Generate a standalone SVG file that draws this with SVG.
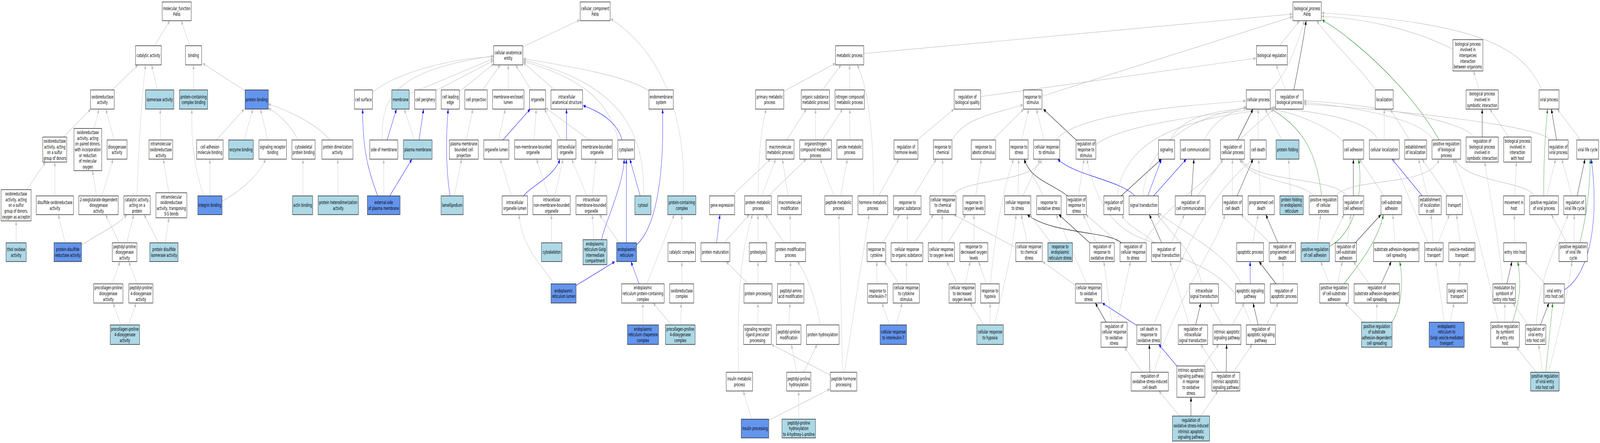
<svg xmlns="http://www.w3.org/2000/svg" width="7143" height="1133" viewBox="0 0 7143 1133" preserveAspectRatio="none" style="width:100vw;height:100vh;display:block">
<style>
rect.n{fill:#fff;stroke:#000;stroke-width:1.2}
rect.lb{fill:#ADD8E6}
rect.cb{fill:#6495ED}
text{font-family:"DejaVu Sans",sans-serif;font-size:12.8px;text-anchor:middle;fill:#000}
path{fill:none;stroke-width:1.2}
.g{stroke:#BEBEBE;marker-end:url(#ag)}
.b{stroke:#0000FF;marker-end:url(#ab)}
.k{stroke:#000;marker-end:url(#ak)}
.gr{stroke:#228B22;marker-end:url(#agr)}
</style>
<defs>
<marker id="ag" viewBox="0 0 11 9" refX="11" refY="4.5" markerWidth="11" markerHeight="9" markerUnits="userSpaceOnUse" orient="auto"><path d="M0,0L11,4.5L0,9z" style="fill:#BEBEBE;stroke:none"/></marker>
<marker id="ab" viewBox="0 0 11 9" refX="11" refY="4.5" markerWidth="11" markerHeight="9" markerUnits="userSpaceOnUse" orient="auto"><path d="M0,0L11,4.5L0,9z" style="fill:#0000FF;stroke:none"/></marker>
<marker id="ak" viewBox="0 0 11 9" refX="11" refY="4.5" markerWidth="11" markerHeight="9" markerUnits="userSpaceOnUse" orient="auto"><path d="M0,0L11,4.5L0,9z" style="fill:#000;stroke:none"/></marker>
<marker id="agr" viewBox="0 0 11 9" refX="11" refY="4.5" markerWidth="11" markerHeight="9" markerUnits="userSpaceOnUse" orient="auto"><path d="M0,0L11,4.5L0,9z" style="fill:#228B22;stroke:none"/></marker>
</defs>
<rect x="0" y="0" width="7143" height="1133" fill="#fff"/>
<g id="connectors">
<path class="g" d="M690,117 L758,53"/>
<path class="g" d="M847,117 L809,53"/>
<path class="g" d="M501,230 L616,166"/>
<path class="g" d="M702,230 L677,166"/>
<path class="g" d="M612,501 C615,420 630,260 650,166"/>
<path class="g" d="M864,230 L864,166"/>
<path class="g" d="M1094,232 L905,162"/>
<path class="g" d="M285,350 L405,279"/>
<path class="g" d="M421,328 L442,279"/>
<path class="g" d="M510,358 L472,279"/>
<path class="g" d="M717,358 L715,279"/>
<path class="g" d="M909,501 C880,450 850,380 857,279"/>
<path class="g" d="M966,358 L1090,279"/>
<path class="g" d="M1089,358 L1129,279"/>
<path class="g" d="M1195,358 L1163,279"/>
<path class="g" d="M1330,358 C1300,320 1240,290 1198,277"/>
<path class="g" d="M1472,358 C1420,320 1300,285 1198,266"/>
<path class="g" d="M937,501 L937,407"/>
<path class="g" d="M991,515 C1100,480 1160,440 1186,407"/>
<path class="g" d="M120,485 L203,414"/>
<path class="g" d="M245,501 L245,414"/>
<path class="g" d="M431,501 L413,436"/>
<path class="g" d="M455,501 L505,407"/>
<path class="g" d="M754,493 L729,407"/>
<path class="g" d="M72,621 L72,565"/>
<path class="g" d="M291,621 L260,549"/>
<path class="g" d="M364,627 C430,600 520,580 566,549"/>
<path class="g" d="M532,621 L471,549"/>
<path class="g" d="M566,621 L597,549"/>
<path class="g" d="M708,621 L643,549"/>
<path class="g" d="M738,621 L754,557"/>
<path class="g" d="M501,726 L536,669"/>
<path class="g" d="M612,726 L575,669"/>
<path class="g" d="M539,831 L505,775"/>
<path class="g" d="M574,831 L608,775"/>
<path class="g" d="M1352,501 L1353,407"/>
<path class="g" d="M1510,501 L1508,407"/>
<path class="g" d="M2334,120 L2588,51"/>
<path class="g" d="M3049,501 C3065,350 3000,150 2726,48"/>
<path class="g" d="M1663,237 C1750,190 2000,150 2203,145"/>
<path class="g" d="M1828,240 L2203,150"/>
<path class="g" d="M1946,232 L2203,155"/>
<path class="g" d="M2051,234 L2205,163"/>
<path class="g" d="M2155,230 L2233,166"/>
<path class="g" d="M2269,230 L2269,166"/>
<path class="g" d="M2371,230 L2302,166"/>
<path class="g" d="M1707,358 C1700,250 1760,180 2203,143"/>
<path class="g" d="M2476,230 L2336,160"/>
<path class="g" d="M2897,232 C2800,195 2550,170 2336,150"/>
<path class="g" d="M2874,501 C2875,350 2800,220 2336,153"/>
<path class="g" d="M2760,358 C2720,260 2600,200 2336,157"/>
<path class="b" d="M1686,501 C1640,430 1619,380 1619,279"/>
<path class="g" d="M1713,501 L1713,407"/>
<path class="b" d="M1740,501 L1839,407"/>
<path class="b" d="M1728,358 L1770,279"/>
<path class="g" d="M1850,358 L1805,279"/>
<path class="b" d="M1871,358 L1891,279"/>
<path class="b" d="M2009,501 C1990,430 1990,350 2001,279"/>
<path class="g" d="M2028,501 L2061,407"/>
<path class="g" d="M2082,358 L2111,279"/>
<path class="g" d="M2225,358 L2256,279"/>
<path class="b" d="M2245,358 L2367,279"/>
<path class="g" d="M2384,358 L2394,279"/>
<path class="g" d="M2284,501 L2233,407"/>
<path class="b" d="M2338,501 C2360,480 2480,450 2499,407"/>
<path class="b" d="M2529,358 L2529,279"/>
<path class="b" d="M2777,358 C2760,320 2700,290 2603,270"/>
<path class="g" d="M2505,358 L2430,279"/>
<path class="g" d="M2631,358 L2436,276"/>
<path class="g" d="M2449,501 L2395,407"/>
<path class="g" d="M2476,501 L2514,407"/>
<path class="g" d="M2620,501 L2552,407"/>
<path class="g" d="M2644,501 L2660,407"/>
<path class="b" d="M2858,501 L2812,407"/>
<path class="b" d="M2796,621 L2796,407"/>
<path class="b" d="M2686,613 C2700,570 2780,480 2787,407"/>
<path class="b" d="M2842,626 C2930,580 2965,450 2958,279"/>
<path class="g" d="M2764,621 L2677,549"/>
<path class="g" d="M2652,613 L2644,549"/>
<path class="g" d="M2462,621 L2462,549"/>
<path class="b" d="M2572,730 L2745,669"/>
<path class="g" d="M2472,726 C2440,690 2330,640 2317,549"/>
<path class="b" d="M2853,726 L2817,669"/>
<path class="g" d="M2888,726 L3010,549"/>
<path class="g" d="M3044,621 L3044,549"/>
<path class="g" d="M3044,726 L3044,669"/>
<path class="g" d="M2870,831 L2870,775"/>
<path class="g" d="M2997,831 L2916,775"/>
<path class="g" d="M3039,831 L3041,775"/>
<path class="g" d="M3267,501 L3440,407"/>
<path class="b" d="M3199,621 L3214,549"/>
<path class="g" d="M3233,621 L3345,549"/>
<path class="g" d="M3400,501 L3463,407"/>
<path class="g" d="M3385,501 C3385,420 3395,330 3421,279"/>
<path class="g" d="M3430,501 L3600,407"/>
<path class="g" d="M3512,358 L3600,279"/>
<path class="g" d="M3518,501 L3493,407"/>
<path class="g" d="M3500,233 L3730,162"/>
<path class="g" d="M3384,621 L3384,549"/>
<path class="g" d="M3500,621 L3417,549"/>
<path class="g" d="M3529,621 L3527,549"/>
<path class="g" d="M3298,952 C3290,800 3300,650 3360,549"/>
<path class="g" d="M3341,726 L3242,669"/>
<path class="g" d="M3384,726 L3384,669"/>
<path class="g" d="M3529,726 L3529,669"/>
<path class="g" d="M3662,831 C3640,760 3600,700 3560,669"/>
<path class="g" d="M3383,831 L3384,775"/>
<path class="g" d="M3521,831 L3527,775"/>
<path class="g" d="M3708,960 L3444,881"/>
<path class="g" d="M3356,1072 L3318,1000"/>
<path class="g" d="M3432,1075 L3705,995"/>
<path class="g" d="M3557,952 L3533,881"/>
<path class="g" d="M3588,952 L3648,881"/>
<path class="g" d="M3566,1072 L3566,1000"/>
<path class="g" d="M3762,952 L3745,549"/>
<path class="g" d="M3770,952 L3880,549"/>
<path class="g" d="M3856,137 L5770,36"/>
<path class="g" d="M3671,230 L3755,166"/>
<path class="g" d="M3793,230 L3793,166"/>
<path class="g" d="M3900,501 C3900,350 3880,230 3827,166"/>
<path class="g" d="M3641,358 L3641,279"/>
<path class="g" d="M3671,358 L3762,279"/>
<path class="g" d="M3794,358 L3794,279"/>
<path class="g" d="M3724,501 L3662,407"/>
<path class="g" d="M3753,501 L3783,407"/>
<path class="g" d="M3923,501 L4013,407"/>
<path class="g" d="M4094,358 L4259,279"/>
<path class="g" d="M4379,247 L5607,149"/>
<path class="g" d="M4652,246 L5770,43"/>
<path class="g" d="M4252,358 C4300,300 4450,290 4567,268"/>
<path class="g" d="M4432,358 L4570,279"/>
<path class="g" d="M4561,358 L4593,279"/>
<path class="g" d="M4661,358 L4627,279"/>
<path class="k" d="M4804,358 L4658,279"/>
<path class="g" d="M4715,358 C4800,290 5300,270 5562,258"/>
<path class="g" d="M4079,501 L4180,407"/>
<path class="g" d="M4208,501 L4208,407"/>
<path class="g" d="M4252,501 C4290,455 4620,470 4650,407"/>
<path class="g" d="M4356,501 L4381,407"/>
<path class="g" d="M4422,726 C4440,600 4480,480 4525,407"/>
<path class="g" d="M4545,501 L4548,407"/>
<path class="g" d="M4567,501 L4643,407"/>
<path class="g" d="M4658,501 L4574,407"/>
<path class="k" d="M4765,501 C4700,470 4600,460 4572,407"/>
<path class="k" d="M5006,621 C4950,590 4700,600 4586,549"/>
<path class="k" d="M4865,621 L4727,549"/>
<path class="g" d="M3941,621 L4016,549"/>
<path class="g" d="M4051,621 L4051,549"/>
<path class="g" d="M4081,621 L4168,549"/>
<path class="g" d="M4205,621 L4207,549"/>
<path class="g" d="M4231,621 L4312,549"/>
<path class="g" d="M4348,621 L4348,549"/>
<path class="g" d="M4535,633 L4258,549"/>
<path class="g" d="M4586,621 L4559,549"/>
<path class="g" d="M4692,621 L4597,549"/>
<path class="g" d="M3915,726 L3914,669"/>
<path class="g" d="M4014,726 L3948,669"/>
<path class="g" d="M4046,726 L4047,669"/>
<path class="g" d="M4273,726 L4227,669"/>
<path class="g" d="M4309,726 L4331,669"/>
<path class="g" d="M4403,726 L4369,669"/>
<path class="g" d="M3972,831 L3937,775"/>
<path class="g" d="M4001,831 L4028,775"/>
<path class="g" d="M4392,831 L4331,775"/>
<path class="g" d="M4420,831 L4420,775"/>
<path class="g" d="M4439,831 C4470,760 4520,650 4536,549"/>
<path class="g" d="M4801,730 L4655,669"/>
<path class="g" d="M4852,726 L4715,549"/>
<path class="k" d="M4938,824 L4890,775"/>
<path class="g" d="M4963,824 L4928,669"/>
<path class="g" d="M4987,824 L5047,669"/>
<path class="b" d="M5074,832 L4921,775"/>
<path class="g" d="M5150,831 C5300,620 5400,500 5594,407"/>
<path class="k" d="M5133,952 L5131,881"/>
<path class="g" d="M5099,952 L5020,888"/>
<path class="g" d="M5152,952 C5250,760 5440,620 5468,549"/>
<path class="b" d="M5254,936 L5173,881"/>
<path class="g" d="M5370,937 L5441,881"/>
<path class="k" d="M5474,952 L5476,881"/>
<path class="g" d="M5441,952 L5361,881"/>
<path class="g" d="M5506,952 L5590,881"/>
<path class="g" d="M5267,1064 L5173,1000"/>
<path class="k" d="M5317,1064 L5317,1016"/>
<path class="g" d="M5361,1064 L5437,1000"/>
<path class="g" d="M5501,831 L5556,775"/>
<path class="g" d="M5455,831 L5403,775"/>
<path class="k" d="M5338,831 L5361,775"/>
<path class="g" d="M5309,831 L5223,669"/>
<path class="g" d="M5365,726 C5340,650 5230,600 5168,549"/>
<path class="g" d="M5541,726 C5480,650 5300,600 5172,545"/>
<path class="b" d="M5581,726 L5581,669"/>
<path class="k" d="M5617,831 L5594,775"/>
<path class="g" d="M5654,831 L5707,775"/>
<path class="g" d="M5585,831 C5540,740 5420,690 5271,660"/>
<path class="g" d="M5592,621 L5617,549"/>
<path class="k" d="M5705,621 L5651,549"/>
<path class="g" d="M5669,621 L5541,549"/>
<path class="k" d="M5697,726 L5621,669"/>
<path class="g" d="M5730,726 L5727,669"/>
<path class="k" d="M5186,621 L5131,549"/>
<path class="g" d="M5153,621 C5100,590 5030,580 5009,549"/>
<path class="g" d="M5228,621 L5288,549"/>
<path class="g" d="M5160,621 C5000,600 4900,540 4852,407"/>
<path class="g" d="M4995,621 L4848,549"/>
<path class="g" d="M4896,621 L4836,549"/>
<path class="g" d="M5108,621 C5200,520 5400,470 5460,407"/>
<path class="g" d="M4814,501 L4840,407"/>
<path class="k" d="M5005,501 L5185,407"/>
<path class="g" d="M4988,501 C5020,350 5300,300 5695,278"/>
<path class="b" d="M5124,501 L5185,407"/>
<path class="b" d="M5150,501 L5296,407"/>
<path class="b" d="M5066,501 C5000,460 4800,450 4722,407"/>
<path class="g" d="M5104,501 C5110,380 5300,300 5564,275"/>
<path class="k" d="M5319,501 L5330,407"/>
<path class="g" d="M5345,501 L5460,407"/>
<path class="g" d="M5502,501 L5502,407"/>
<path class="k" d="M5523,501 L5594,407"/>
<path class="g" d="M5627,501 L5619,407"/>
<path class="g" d="M5762,501 L5753,407"/>
<path class="g" d="M5866,501 C5800,460 5600,470 5533,407"/>
<path class="gr" d="M5900,501 C5880,400 5830,330 5672,278"/>
<path class="g" d="M4892,370 C5000,320 5400,290 5695,275"/>
<path class="g" d="M5223,358 C5280,300 5400,285 5564,277"/>
<path class="g" d="M5376,358 C5420,310 5480,290 5564,273"/>
<path class="k" d="M5525,358 L5594,279"/>
<path class="g" d="M5533,358 L5686,279"/>
<path class="g" d="M5617,358 L5617,279"/>
<path class="g" d="M5723,358 L5648,279"/>
<path class="g" d="M5671,232 C5740,190 5770,150 5824,53"/>
<path class="k" d="M5776,230 C5800,160 5820,100 5831,53"/>
<path class="g" d="M5740,230 L5697,166"/>
<path class="g" d="M5713,117 L5801,53"/>
<path class="g" d="M6142,230 C6050,160 5950,110 5878,53"/>
<path class="gr" d="M6425,358 C6300,230 6050,100 5902,51"/>
<path class="g" d="M6486,126 C6300,70 6050,45 5900,42"/>
<path class="g" d="M6883,230 C6800,120 6600,60 5900,33"/>
<path class="g" d="M6400,360 C6350,300 6000,270 5820,262"/>
<path class="g" d="M6577,350 C6550,310 6100,265 5820,258"/>
<path class="g" d="M6919,358 C6880,320 6200,280 5820,266"/>
<path class="g" d="M6151,358 C6120,310 5900,285 5673,276"/>
<path class="g" d="M5997,363 C5950,330 5800,290 5673,279"/>
<path class="g" d="M6603,230 L6578,181"/>
<path class="k" d="M6617,350 L6617,279"/>
<path class="g" d="M6735,350 L6651,279"/>
<path class="k" d="M6949,358 L6926,279"/>
<path class="g" d="M7057,358 L6952,279"/>
<path class="gr" d="M6892,501 C6890,420 6900,330 6909,279"/>
<path class="g" d="M6905,501 L6945,407"/>
<path class="g" d="M6852,501 C6800,460 6560,470 6494,407"/>
<path class="g" d="M7018,501 L6972,407"/>
<path class="k" d="M7041,501 L7076,407"/>
<path class="gr" d="M7053,621 C7080,560 7100,480 7099,407"/>
<path class="g" d="M7026,621 L7028,549"/>
<path class="b" d="M6984,741 C7100,700 7140,560 7104,407"/>
<path class="g" d="M6180,358 L6180,279"/>
<path class="g" d="M6293,358 L6207,279"/>
<path class="k" d="M6042,501 L6042,407"/>
<path class="g" d="M6012,501 C5950,450 5600,470 5540,407"/>
<path class="g" d="M5960,501 C6050,450 6380,480 6425,407"/>
<path class="gr" d="M5935,630 C6040,600 6090,500 6065,407"/>
<path class="g" d="M6179,501 L6069,407"/>
<path class="b" d="M6349,501 L6215,407"/>
<path class="g" d="M6372,501 L6333,407"/>
<path class="g" d="M6463,501 L6349,407"/>
<path class="g" d="M6762,501 L6770,414"/>
<path class="g" d="M6708,726 C6690,600 6650,500 6628,414"/>
<path class="g" d="M6689,824 C6640,700 6560,500 6486,407"/>
<path class="g" d="M6375,621 L6218,407"/>
<path class="g" d="M6398,621 L6389,549"/>
<path class="g" d="M6420,621 L6471,549"/>
<path class="g" d="M6519,621 L6502,549"/>
<path class="g" d="M6014,621 L6031,549"/>
<path class="k" d="M6050,621 L6165,549"/>
<path class="gr" d="M6000,726 C6060,680 6150,620 6176,549"/>
<path class="g" d="M6228,621 L6218,549"/>
<path class="g" d="M5970,726 L5993,669"/>
<path class="g" d="M6113,726 L6042,669"/>
<path class="k" d="M6166,726 L6211,669"/>
<path class="gr" d="M6215,824 C6260,780 6265,720 6249,669"/>
<path class="g" d="M6147,824 L6147,775"/>
<path class="g" d="M6087,824 L6004,775"/>
<path class="g" d="M6448,824 L6410,669"/>
<path class="g" d="M6473,824 L6492,775"/>
<path class="g" d="M6511,726 L6519,669"/>
<path class="k" d="M6727,726 L6750,669"/>
<path class="gr" d="M6752,824 C6790,760 6790,720 6776,669"/>
<path class="g" d="M6898,726 L6808,669"/>
<path class="g" d="M6762,621 L6760,549"/>
<path class="g" d="M6718,824 L6718,775"/>
<path class="g" d="M6823,831 L6754,775"/>
<path class="k" d="M6877,831 L6915,775"/>
<path class="g" d="M6859,831 C6870,700 6960,620 7000,549"/>
<path class="g" d="M6859,952 L6770,888"/>
<path class="g" d="M6888,952 L6869,881"/>
<path class="gr" d="M6901,952 L6932,775"/>
<path class="g" d="M6913,952 C6960,850 7000,750 7018,669"/>
<path class="g" d="M6995,621 L6926,549"/>
<path class="g" d="M5935,625 L6000,549"/>
<path class="g" d="M5880,621 L5896,549"/>
<path class="g" d="M5935,726 L5896,669"/>
</g>
<g id="n-mf"><rect class="n" x="724" y="5" width="130" height="48"/><text x="789" y="26.2"><tspan x="789">molecular_function</tspan><tspan x="789" dy="14.6">P4hb</tspan></text></g>
<g id="n-catact"><rect class="n" x="605" y="117" width="115" height="49"/><text x="662.5" y="146">catalytic activity</text></g>
<g id="n-binding"><rect class="n" x="828" y="117" width="72" height="49"/><text x="864" y="146">binding</text></g>
<g id="n-oxred"><rect class="n" x="404" y="230" width="106" height="49"/><text x="457" y="251.7"><tspan x="457">oxidoreductase</tspan><tspan x="457" dy="14.6">activity</tspan></text></g>
<g id="n-isomer"><rect class="n lb" x="650" y="230" width="126" height="49"/><text x="713" y="259">isomerase activity</text></g>
<g id="n-pcbind"><rect class="n lb" x="801" y="230" width="126" height="49"/><text x="864" y="251.7"><tspan x="864">protein-containing</tspan><tspan x="864" dy="14.6">complex binding</tspan></text></g>
<g id="n-protbind"><rect class="n cb" x="1094" y="230" width="104" height="49"/><text x="1146" y="259">protein binding</text></g>
<g id="n-oxsulf"><rect class="n" x="191" y="350.5" width="107" height="64"/><text x="244.5" y="365.1"><tspan x="244.5">oxidoreductase</tspan><tspan x="244.5" dy="14.6">activity, acting</tspan><tspan x="244.5" dy="14.6">on a sulfur</tspan><tspan x="244.5" dy="14.6">group of donors</tspan></text></g>
<g id="n-oxpaired"><rect class="n" x="330" y="328.5" width="124" height="108"/><text x="392" y="343.2"><tspan x="392">oxidoreductase</tspan><tspan x="392" dy="14.6">activity, acting</tspan><tspan x="392" dy="14.6">on paired donors,</tspan><tspan x="392" dy="14.6">with incorporation</tspan><tspan x="392" dy="14.6">or reduction</tspan><tspan x="392" dy="14.6">of molecular</tspan><tspan x="392" dy="14.6">oxygen</tspan></text></g>
<g id="n-dioxy"><rect class="n" x="478" y="358" width="89" height="49"/><text x="522.5" y="379.7"><tspan x="522.5">dioxygenase</tspan><tspan x="522.5" dy="14.6">activity</tspan></text></g>
<g id="n-intramol"><rect class="n" x="665" y="358" width="106" height="49"/><text x="718" y="372.4"><tspan x="718">intramolecular</tspan><tspan x="718" dy="14.6">oxidoreductase</tspan><tspan x="718" dy="14.6">activity</tspan></text></g>
<g id="n-cellad"><rect class="n" x="878" y="358" width="118" height="49"/><text x="937" y="379.7"><tspan x="937">cell adhesion</tspan><tspan x="937" dy="14.6">molecule binding</tspan></text></g>
<g id="n-enzbind"><rect class="n lb" x="1021" y="358" width="110" height="49"/><text x="1076" y="387">enzyme binding</text></g>
<g id="n-sigrec"><rect class="n" x="1156" y="358" width="123" height="49"/><text x="1217.5" y="379.7"><tspan x="1217.5">signaling receptor</tspan><tspan x="1217.5" dy="14.6">binding</tspan></text></g>
<g id="n-cytoskbind"><rect class="n" x="1303" y="358" width="104" height="49"/><text x="1355" y="379.7"><tspan x="1355">cytoskeletal</tspan><tspan x="1355" dy="14.6">protein binding</tspan></text></g>
<g id="n-protdim"><rect class="n" x="1437" y="358" width="139" height="49"/><text x="1506.5" y="379.7"><tspan x="1506.5">protein dimerization</tspan><tspan x="1506.5" dy="14.6">activity</tspan></text></g>
<g id="n-oxsulfo2"><rect class="n" x="5" y="485" width="134" height="80"/><text x="72" y="500.3"><tspan x="72">oxidoreductase</tspan><tspan x="72" dy="14.6">activity, acting</tspan><tspan x="72" dy="14.6">on a sulfur</tspan><tspan x="72" dy="14.6">group of donors,</tspan><tspan x="72" dy="14.6">oxygen as acceptor</tspan></text></g>
<g id="n-disulf"><rect class="n" x="162" y="501" width="166" height="48"/><text x="245" y="522.2"><tspan x="245">disulfide oxidoreductase</tspan><tspan x="245" dy="14.6">activity</tspan></text></g>
<g id="n-oxoglut"><rect class="n" x="352" y="501" width="176" height="48"/><text x="440" y="514.9"><tspan x="440">2-oxoglutarate-dependent</tspan><tspan x="440" dy="14.6">dioxygenase</tspan><tspan x="440" dy="14.6">activity</tspan></text></g>
<g id="n-catprot"><rect class="n" x="553" y="501" width="118" height="48"/><text x="612" y="514.9"><tspan x="612">catalytic activity,</tspan><tspan x="612" dy="14.6">acting on a</tspan><tspan x="612" dy="14.6">protein</tspan></text></g>
<g id="n-intratrans"><rect class="n" x="696" y="493" width="138" height="64"/><text x="765" y="507.6"><tspan x="765">intramolecular</tspan><tspan x="765" dy="14.6">oxidoreductase</tspan><tspan x="765" dy="14.6">activity, transposing</tspan><tspan x="765" dy="14.6">S-S bonds</tspan></text></g>
<g id="n-integrin"><rect class="n cb" x="883" y="501" width="108" height="48"/><text x="937" y="529.5">integrin binding</text></g>
<g id="n-actin"><rect class="n lb" x="1306" y="501" width="90" height="48"/><text x="1351" y="529.5">actin binding</text></g>
<g id="n-hetdim"><rect class="n lb" x="1420" y="501" width="180" height="48"/><text x="1510" y="522.2"><tspan x="1510">protein heterodimerization</tspan><tspan x="1510" dy="14.6">activity</tspan></text></g>
<g id="n-thiol"><rect class="n lb" x="27" y="621" width="90" height="48"/><text x="72" y="642.2"><tspan x="72">thiol oxidase</tspan><tspan x="72" dy="14.6">activity</tspan></text></g>
<g id="n-pdr"><rect class="n cb" x="241" y="621" width="123" height="48"/><text x="302.5" y="642.2"><tspan x="302.5">protein-disulfide</tspan><tspan x="302.5" dy="14.6">reductase activity</tspan></text></g>
<g id="n-ppdiox"><rect class="n" x="501" y="621" width="110" height="48"/><text x="556" y="634.9"><tspan x="556">peptidyl-proline</tspan><tspan x="556" dy="14.6">dioxygenase</tspan><tspan x="556" dy="14.6">activity</tspan></text></g>
<g id="n-pdi"><rect class="n lb" x="669" y="621" width="126" height="48"/><text x="732" y="642.2"><tspan x="732">protein disulfide</tspan><tspan x="732" dy="14.6">isomerase activity</tspan></text></g>
<g id="n-procdiox"><rect class="n" x="418" y="726" width="131" height="49"/><text x="483.5" y="740.4"><tspan x="483.5">procollagen-proline</tspan><tspan x="483.5" dy="14.6">dioxygenase</tspan><tspan x="483.5" dy="14.6">activity</tspan></text></g>
<g id="n-pp4diox"><rect class="n" x="575" y="726" width="108" height="49"/><text x="629" y="740.4"><tspan x="629">peptidyl-proline</tspan><tspan x="629" dy="14.6">4-dioxygenase</tspan><tspan x="629" dy="14.6">activity</tspan></text></g>
<g id="n-proc4diox"><rect class="n lb" x="492" y="831" width="131" height="50"/><text x="557.5" y="845.9"><tspan x="557.5">procollagen-proline</tspan><tspan x="557.5" dy="14.6">4-dioxygenase</tspan><tspan x="557.5" dy="14.6">activity</tspan></text></g>
<g id="n-cc"><rect class="n" x="2590" y="5" width="134" height="48"/><text x="2657" y="26.2"><tspan x="2657">cellular_component</tspan><tspan x="2657" dy="14.6">P4hb</tspan></text></g>
<g id="n-cae"><rect class="n" x="2204" y="117" width="130" height="49"/><text x="2269" y="138.7"><tspan x="2269">cellular anatomical</tspan><tspan x="2269" dy="14.6">entity</tspan></text></g>
<g id="n-cellsurf"><rect class="n" x="1582" y="230" width="81" height="49"/><text x="1622.5" y="259">cell surface</text></g>
<g id="n-membrane"><rect class="n lb" x="1749" y="230" width="78" height="49"/><text x="1788" y="259">membrane</text></g>
<g id="n-cellper"><rect class="n" x="1851" y="230" width="95" height="49"/><text x="1898.5" y="259">cell periphery</text></g>
<g id="n-leading"><rect class="n" x="1970" y="230" width="81" height="49"/><text x="2010.5" y="251.7"><tspan x="2010.5">cell leading</tspan><tspan x="2010.5" dy="14.6">edge</tspan></text></g>
<g id="n-cellproj"><rect class="n" x="2075" y="230" width="100" height="49"/><text x="2125" y="259">cell projection</text></g>
<g id="n-melumen"><rect class="n" x="2199" y="230" width="140" height="49"/><text x="2269" y="251.7"><tspan x="2269">membrane-enclosed</tspan><tspan x="2269" dy="14.6">lumen</tspan></text></g>
<g id="n-organelle"><rect class="n" x="2364" y="230" width="72" height="49"/><text x="2400" y="259">organelle</text></g>
<g id="n-ias"><rect class="n" x="2460" y="230" width="141" height="49"/><text x="2530.5" y="251.7"><tspan x="2530.5">intracellular</tspan><tspan x="2530.5" dy="14.6">anatomical structure</tspan></text></g>
<g id="n-endomem"><rect class="n" x="2897" y="230" width="109" height="49"/><text x="2951.5" y="251.7"><tspan x="2951.5">endomembrane</tspan><tspan x="2951.5" dy="14.6">system</tspan></text></g>
<g id="n-sidemem"><rect class="n" x="1651" y="358" width="125" height="49"/><text x="1713.5" y="387">side of membrane</text></g>
<g id="n-pm"><rect class="n lb" x="1801" y="358" width="128" height="49"/><text x="1865" y="387">plasma membrane</text></g>
<g id="n-pmbcp"><rect class="n" x="2006" y="358" width="129" height="49"/><text x="2070.5" y="372.4"><tspan x="2070.5">plasma membrane</tspan><tspan x="2070.5" dy="14.6">bounded cell</tspan><tspan x="2070.5" dy="14.6">projection</tspan></text></g>
<g id="n-orglumen"><rect class="n" x="2160" y="358" width="112" height="49"/><text x="2216" y="387">organelle lumen</text></g>
<g id="n-nmbo"><rect class="n" x="2297" y="358" width="165" height="49"/><text x="2379.5" y="379.7"><tspan x="2379.5">non-membrane-bounded</tspan><tspan x="2379.5" dy="14.6">organelle</tspan></text></g>
<g id="n-intorg"><rect class="n" x="2488" y="358" width="83" height="49"/><text x="2529.5" y="379.7"><tspan x="2529.5">intracellular</tspan><tspan x="2529.5" dy="14.6">organelle</tspan></text></g>
<g id="n-mbo"><rect class="n" x="2596" y="358" width="138" height="49"/><text x="2665" y="379.7"><tspan x="2665">membrane-bounded</tspan><tspan x="2665" dy="14.6">organelle</tspan></text></g>
<g id="n-cytoplasm"><rect class="n" x="2758" y="358" width="75" height="49"/><text x="2795.5" y="387">cytoplasm</text></g>
<g id="n-extpm"><rect class="n cb" x="1640" y="501" width="146" height="48"/><text x="1713" y="522.2"><tspan x="1713">external side</tspan><tspan x="1713" dy="14.6">of plasma membrane</tspan></text></g>
<g id="n-lamelli"><rect class="n lb" x="1969" y="501" width="99" height="48"/><text x="2018.5" y="529.5">lamellipodium</text></g>
<g id="n-iol"><rect class="n" x="2242" y="501" width="113" height="48"/><text x="2298.5" y="522.2"><tspan x="2298.5">intracellular</tspan><tspan x="2298.5" dy="14.6">organelle lumen</tspan></text></g>
<g id="n-inmbo"><rect class="n" x="2379" y="501" width="167" height="48"/><text x="2462.5" y="514.9"><tspan x="2462.5">intracellular</tspan><tspan x="2462.5" dy="14.6">non-membrane-bounded</tspan><tspan x="2462.5" dy="14.6">organelle</tspan></text></g>
<g id="n-imbo"><rect class="n" x="2571" y="501" width="138" height="48"/><text x="2640" y="514.9"><tspan x="2640">intracellular</tspan><tspan x="2640" dy="14.6">membrane-bounded</tspan><tspan x="2640" dy="14.6">organelle</tspan></text></g>
<g id="n-cytosol"><rect class="n lb" x="2834" y="501" width="72" height="48"/><text x="2870" y="529.5">cytosol</text></g>
<g id="n-pcc"><rect class="n lb" x="2981" y="501" width="126" height="48"/><text x="3044" y="522.2"><tspan x="3044">protein-containing</tspan><tspan x="3044" dy="14.6">complex</tspan></text></g>
<g id="n-cytoskel"><rect class="n lb" x="2417" y="621" width="92" height="48"/><text x="2463" y="649.5">cytoskeleton</text></g>
<g id="n-ergic"><rect class="n lb" x="2603" y="613" width="107" height="64"/><text x="2656.5" y="627.6"><tspan x="2656.5">endoplasmic</tspan><tspan x="2656.5" dy="14.6">reticulum-Golgi</tspan><tspan x="2656.5" dy="14.6">intermediate</tspan><tspan x="2656.5" dy="14.6">compartment</tspan></text></g>
<g id="n-er"><rect class="n cb" x="2753" y="621" width="89" height="48"/><text x="2797.5" y="642.2"><tspan x="2797.5">endoplasmic</tspan><tspan x="2797.5" dy="14.6">reticulum</tspan></text></g>
<g id="n-catcomplex"><rect class="n" x="2982" y="621" width="123" height="48"/><text x="3043.5" y="649.5">catalytic complex</text></g>
<g id="n-erlumen"><rect class="n cb" x="2460" y="726" width="112" height="49"/><text x="2516" y="747.7"><tspan x="2516">endoplasmic</tspan><tspan x="2516" dy="14.6">reticulum lumen</tspan></text></g>
<g id="n-erpcc"><rect class="n" x="2775" y="726" width="190" height="49"/><text x="2870" y="740.4"><tspan x="2870">endoplasmic</tspan><tspan x="2870" dy="14.6">reticulum protein-containing</tspan><tspan x="2870" dy="14.6">complex</tspan></text></g>
<g id="n-oxcomplex"><rect class="n" x="2990" y="726" width="107" height="49"/><text x="3043.5" y="747.7"><tspan x="3043.5">oxidoreductase</tspan><tspan x="3043.5" dy="14.6">complex</tspan></text></g>
<g id="n-erchap"><rect class="n cb" x="2801" y="831" width="139" height="50"/><text x="2870.5" y="845.9"><tspan x="2870.5">endoplasmic</tspan><tspan x="2870.5" dy="14.6">reticulum chaperone</tspan><tspan x="2870.5" dy="14.6">complex</tspan></text></g>
<g id="n-p4hcomplex"><rect class="n lb" x="2971" y="831" width="132" height="50"/><text x="3037" y="845.9"><tspan x="3037">procollagen-proline</tspan><tspan x="3037" dy="14.6">4-dioxygenase</tspan><tspan x="3037" dy="14.6">complex</tspan></text></g>
<g id="n-bp"><rect class="n" x="5772" y="5" width="127" height="48"/><text x="5835.5" y="26.2"><tspan x="5835.5">biological_process</tspan><tspan x="5835.5" dy="14.6">P4hb</tspan></text></g>
<g id="n-metab"><rect class="n" x="3730" y="117" width="126" height="49"/><text x="3793" y="146">metabolic process</text></g>
<g id="n-bioreg"><rect class="n" x="5609" y="117" width="138" height="49"/><text x="5678" y="146">biological regulation</text></g>
<g id="n-bpinter"><rect class="n" x="6486" y="101.5" width="134" height="80"/><text x="6553" y="116.8"><tspan x="6553">biological process</tspan><tspan x="6553" dy="14.6">involved in</tspan><tspan x="6553" dy="14.6">interspecies</tspan><tspan x="6553" dy="14.6">interaction</tspan><tspan x="6553" dy="14.6">between organisms</tspan></text></g>
<g id="n-primmet"><rect class="n" x="3373" y="230" width="126" height="49"/><text x="3436" y="251.7"><tspan x="3436">primary metabolic</tspan><tspan x="3436" dy="14.6">process</tspan></text></g>
<g id="n-orgsub"><rect class="n" x="3577" y="230" width="126" height="49"/><text x="3640" y="251.7"><tspan x="3640">organic substance</tspan><tspan x="3640" dy="14.6">metabolic process</tspan></text></g>
<g id="n-nitro"><rect class="n" x="3728" y="230" width="131" height="49"/><text x="3793.5" y="251.7"><tspan x="3793.5">nitrogen compound</tspan><tspan x="3793.5" dy="14.6">metabolic process</tspan></text></g>
<g id="n-regbq"><rect class="n" x="4260" y="230" width="118" height="49"/><text x="4319" y="251.7"><tspan x="4319">regulation of</tspan><tspan x="4319" dy="14.6">biological quality</tspan></text></g>
<g id="n-respstim"><rect class="n" x="4569" y="230" width="83" height="49"/><text x="4610.5" y="251.7"><tspan x="4610.5">response to</tspan><tspan x="4610.5" dy="14.6">stimulus</tspan></text></g>
<g id="n-cellproc"><rect class="n" x="5564" y="230" width="107" height="49"/><text x="5617.5" y="259">cellular process</text></g>
<g id="n-regbp"><rect class="n" x="5695" y="230" width="123" height="49"/><text x="5756.5" y="251.7"><tspan x="5756.5">regulation of</tspan><tspan x="5756.5" dy="14.6">biological process</tspan></text></g>
<g id="n-localiz"><rect class="n" x="6140" y="230" width="80" height="49"/><text x="6180" y="259">localization</text></g>
<g id="n-bpsymb"><rect class="n" x="6545" y="230" width="144" height="49"/><text x="6617" y="244.4"><tspan x="6617">biological process</tspan><tspan x="6617" dy="14.6">involved in</tspan><tspan x="6617" dy="14.6">symbiotic interaction</tspan></text></g>
<g id="n-viralproc"><rect class="n" x="6871" y="230" width="89" height="49"/><text x="6915.5" y="259">viral process</text></g>
<g id="n-macromet"><rect class="n" x="3420" y="358" width="125" height="49"/><text x="3482.5" y="379.7"><tspan x="3482.5">macromolecule</tspan><tspan x="3482.5" dy="14.6">metabolic process</tspan></text></g>
<g id="n-orgnitro"><rect class="n" x="3570" y="358" width="142" height="49"/><text x="3641" y="372.4"><tspan x="3641">organonitrogen</tspan><tspan x="3641" dy="14.6">compound metabolic</tspan><tspan x="3641" dy="14.6">process</tspan></text></g>
<g id="n-amide"><rect class="n" x="3736" y="358" width="116" height="49"/><text x="3794" y="379.7"><tspan x="3794">amide metabolic</tspan><tspan x="3794" dy="14.6">process</tspan></text></g>
<g id="n-reghorm"><rect class="n" x="3991" y="358" width="107" height="49"/><text x="4044.5" y="379.7"><tspan x="4044.5">regulation of</tspan><tspan x="4044.5" dy="14.6">hormone levels</tspan></text></g>
<g id="n-respchem"><rect class="n" x="4167" y="358" width="83" height="49"/><text x="4208.5" y="379.7"><tspan x="4208.5">response to</tspan><tspan x="4208.5" dy="14.6">chemical</tspan></text></g>
<g id="n-respabio"><rect class="n" x="4336" y="358" width="109" height="49"/><text x="4390.5" y="379.7"><tspan x="4390.5">response to</tspan><tspan x="4390.5" dy="14.6">abiotic stimulus</tspan></text></g>
<g id="n-respstress"><rect class="n" x="4507" y="358" width="83" height="49"/><text x="4548.5" y="379.7"><tspan x="4548.5">response to</tspan><tspan x="4548.5" dy="14.6">stress</tspan></text></g>
<g id="n-crstim"><rect class="n" x="4614" y="358" width="117" height="49"/><text x="4672.5" y="379.7"><tspan x="4672.5">cellular response</tspan><tspan x="4672.5" dy="14.6">to stimulus</tspan></text></g>
<g id="n-regrespstim"><rect class="n" x="4804" y="358" width="88" height="49"/><text x="4848" y="372.4"><tspan x="4848">regulation of</tspan><tspan x="4848" dy="14.6">response to</tspan><tspan x="4848" dy="14.6">stimulus</tspan></text></g>
<g id="n-signaling"><rect class="n" x="5172" y="358" width="72" height="49"/><text x="5208" y="387">signaling</text></g>
<g id="n-cellcomm"><rect class="n" x="5269" y="358" width="133" height="49"/><text x="5335.5" y="387">cell communication</text></g>
<g id="n-regcp"><rect class="n" x="5449" y="358" width="107" height="49"/><text x="5502.5" y="379.7"><tspan x="5502.5">regulation of</tspan><tspan x="5502.5" dy="14.6">cellular process</tspan></text></g>
<g id="n-celldeath"><rect class="n" x="5581" y="358" width="72" height="49"/><text x="5617" y="387">cell death</text></g>
<g id="n-protfold"><rect class="n lb" x="5697" y="358" width="102" height="49"/><text x="5748" y="387">protein folding</text></g>
<g id="n-celladh"><rect class="n" x="5997" y="358" width="91" height="49"/><text x="6042.5" y="387">cell adhesion</text></g>
<g id="n-cellloc"><rect class="n" x="6113" y="358" width="134" height="49"/><text x="6180" y="387">cellular localization</text></g>
<g id="n-estloc"><rect class="n" x="6271" y="358" width="98" height="49"/><text x="6320" y="379.7"><tspan x="6320">establishment</tspan><tspan x="6320" dy="14.6">of localization</tspan></text></g>
<g id="n-posregbp"><rect class="n" x="6393" y="358" width="128" height="49"/><text x="6457" y="372.4"><tspan x="6457">positive regulation</tspan><tspan x="6457" dy="14.6">of biological</tspan><tspan x="6457" dy="14.6">process</tspan></text></g>
<g id="n-regbpsymb"><rect class="n" x="6545" y="350.5" width="144" height="64"/><text x="6617" y="365.1"><tspan x="6617">regulation of</tspan><tspan x="6617" dy="14.6">biological process</tspan><tspan x="6617" dy="14.6">involved in</tspan><tspan x="6617" dy="14.6">symbiotic interaction</tspan></text></g>
<g id="n-bphost"><rect class="n" x="6713" y="350.5" width="123" height="64"/><text x="6774.5" y="365.1"><tspan x="6774.5">biological process</tspan><tspan x="6774.5" dy="14.6">involved in</tspan><tspan x="6774.5" dy="14.6">interaction</tspan><tspan x="6774.5" dy="14.6">with host</tspan></text></g>
<g id="n-regviral"><rect class="n" x="6913" y="358" width="88" height="49"/><text x="6957" y="379.7"><tspan x="6957">regulation of</tspan><tspan x="6957" dy="14.6">viral process</tspan></text></g>
<g id="n-virallife"><rect class="n" x="7039" y="358" width="98" height="49"/><text x="7088" y="387">viral life cycle</text></g>
<g id="n-geneexp"><rect class="n" x="3168" y="501" width="112" height="48"/><text x="3224" y="529.5">gene expression</text></g>
<g id="n-protmet"><rect class="n" x="3324" y="501" width="120" height="48"/><text x="3384" y="522.2"><tspan x="3384">protein metabolic</tspan><tspan x="3384" dy="14.6">process</tspan></text></g>
<g id="n-macromod"><rect class="n" x="3472" y="501" width="106" height="48"/><text x="3525" y="522.2"><tspan x="3525">macromolecule</tspan><tspan x="3525" dy="14.6">modification</tspan></text></g>
<g id="n-peptmet"><rect class="n" x="3682" y="501" width="123" height="48"/><text x="3743.5" y="522.2"><tspan x="3743.5">peptide metabolic</tspan><tspan x="3743.5" dy="14.6">process</tspan></text></g>
<g id="n-hormmet"><rect class="n" x="3830" y="501" width="133" height="48"/><text x="3896.5" y="522.2"><tspan x="3896.5">hormone metabolic</tspan><tspan x="3896.5" dy="14.6">process</tspan></text></g>
<g id="n-resporg"><rect class="n" x="3989" y="501" width="123" height="48"/><text x="4050.5" y="522.2"><tspan x="4050.5">response to</tspan><tspan x="4050.5" dy="14.6">organic substance</tspan></text></g>
<g id="n-crchem"><rect class="n" x="4151" y="501" width="117" height="48"/><text x="4209.5" y="514.9"><tspan x="4209.5">cellular response</tspan><tspan x="4209.5" dy="14.6">to chemical</tspan><tspan x="4209.5" dy="14.6">stimulus</tspan></text></g>
<g id="n-respoxy"><rect class="n" x="4299" y="501" width="98" height="48"/><text x="4348" y="522.2"><tspan x="4348">response to</tspan><tspan x="4348" dy="14.6">oxygen levels</tspan></text></g>
<g id="n-crstress"><rect class="n" x="4485" y="501" width="117" height="48"/><text x="4543.5" y="522.2"><tspan x="4543.5">cellular response</tspan><tspan x="4543.5" dy="14.6">to stress</tspan></text></g>
<g id="n-respoxstress"><rect class="n" x="4628" y="501" width="109" height="48"/><text x="4682.5" y="522.2"><tspan x="4682.5">response to</tspan><tspan x="4682.5" dy="14.6">oxidative stress</tspan></text></g>
<g id="n-regrespstress"><rect class="n" x="4762" y="501" width="88" height="48"/><text x="4806" y="514.9"><tspan x="4806">regulation of</tspan><tspan x="4806" dy="14.6">response to</tspan><tspan x="4806" dy="14.6">stress</tspan></text></g>
<g id="n-regsig"><rect class="n" x="4928" y="501" width="88" height="48"/><text x="4972" y="522.2"><tspan x="4972">regulation of</tspan><tspan x="4972" dy="14.6">signaling</tspan></text></g>
<g id="n-sigtrans"><rect class="n" x="5041" y="501" width="131" height="48"/><text x="5106.5" y="529.5">signal transduction</text></g>
<g id="n-regcc"><rect class="n" x="5247" y="501" width="134" height="48"/><text x="5314" y="522.2"><tspan x="5314">regulation of</tspan><tspan x="5314" dy="14.6">cell communication</tspan></text></g>
<g id="n-regcd"><rect class="n" x="5458" y="501" width="89" height="48"/><text x="5502.5" y="522.2"><tspan x="5502.5">regulation of</tspan><tspan x="5502.5" dy="14.6">cell death</tspan></text></g>
<g id="n-pcd"><rect class="n" x="5572" y="501" width="117" height="48"/><text x="5630.5" y="522.2"><tspan x="5630.5">programmed cell</tspan><tspan x="5630.5" dy="14.6">death</tspan></text></g>
<g id="n-pfer"><rect class="n lb" x="5714" y="501" width="104" height="48"/><text x="5766" y="514.9"><tspan x="5766">protein folding</tspan><tspan x="5766" dy="14.6">in endoplasmic</tspan><tspan x="5766" dy="14.6">reticulum</tspan></text></g>
<g id="n-posregcp"><rect class="n" x="5845" y="501" width="127" height="48"/><text x="5908.5" y="514.9"><tspan x="5908.5">positive regulation</tspan><tspan x="5908.5" dy="14.6">of cellular</tspan><tspan x="5908.5" dy="14.6">process</tspan></text></g>
<g id="n-regcelladh"><rect class="n" x="5997" y="501" width="91" height="48"/><text x="6042.5" y="522.2"><tspan x="6042.5">regulation of</tspan><tspan x="6042.5" dy="14.6">cell adhesion</tspan></text></g>
<g id="n-csadh"><rect class="n" x="6165" y="501" width="93" height="48"/><text x="6211.5" y="522.2"><tspan x="6211.5">cell-substrate</tspan><tspan x="6211.5" dy="14.6">adhesion</tspan></text></g>
<g id="n-estlocc"><rect class="n" x="6335" y="501" width="99" height="48"/><text x="6384.5" y="514.9"><tspan x="6384.5">establishment</tspan><tspan x="6384.5" dy="14.6">of localization</tspan><tspan x="6384.5" dy="14.6">in cell</tspan></text></g>
<g id="n-transport"><rect class="n" x="6457" y="501" width="72" height="48"/><text x="6493" y="529.5">transport</text></g>
<g id="n-movhost"><rect class="n" x="6712" y="501" width="93" height="48"/><text x="6758.5" y="522.2"><tspan x="6758.5">movement in</tspan><tspan x="6758.5" dy="14.6">host</tspan></text></g>
<g id="n-posregviral"><rect class="n" x="6829" y="501" width="128" height="48"/><text x="6893" y="522.2"><tspan x="6893">positive regulation</tspan><tspan x="6893" dy="14.6">of viral process</tspan></text></g>
<g id="n-regvlc"><rect class="n" x="6981" y="501" width="98" height="48"/><text x="7030" y="522.2"><tspan x="7030">regulation of</tspan><tspan x="7030" dy="14.6">viral life cycle</tspan></text></g>
<g id="n-protmat"><rect class="n" x="3129" y="621" width="129" height="48"/><text x="3193.5" y="649.5">protein maturation</text></g>
<g id="n-proteolysis"><rect class="n" x="3345" y="621" width="78" height="48"/><text x="3384" y="649.5">proteolysis</text></g>
<g id="n-protmod"><rect class="n" x="3461" y="621" width="136" height="48"/><text x="3529" y="642.2"><tspan x="3529">protein modification</tspan><tspan x="3529" dy="14.6">process</tspan></text></g>
<g id="n-respcyto"><rect class="n" x="3871" y="621" width="83" height="48"/><text x="3912.5" y="642.2"><tspan x="3912.5">response to</tspan><tspan x="3912.5" dy="14.6">cytokine</tspan></text></g>
<g id="n-crorg"><rect class="n" x="3978" y="621" width="142" height="48"/><text x="4049" y="642.2"><tspan x="4049">cellular response</tspan><tspan x="4049" dy="14.6">to organic substance</tspan></text></g>
<g id="n-croxy"><rect class="n" x="4144" y="621" width="117" height="48"/><text x="4202.5" y="642.2"><tspan x="4202.5">cellular response</tspan><tspan x="4202.5" dy="14.6">to oxygen levels</tspan></text></g>
<g id="n-respdecoxy"><rect class="n" x="4285" y="621" width="125" height="48"/><text x="4347.5" y="634.9"><tspan x="4347.5">response to</tspan><tspan x="4347.5" dy="14.6">decreased oxygen</tspan><tspan x="4347.5" dy="14.6">levels</tspan></text></g>
<g id="n-crchemstress"><rect class="n" x="4535" y="621" width="118" height="48"/><text x="4594" y="634.9"><tspan x="4594">cellular response</tspan><tspan x="4594" dy="14.6">to chemical</tspan><tspan x="4594" dy="14.6">stress</tspan></text></g>
<g id="n-resper"><rect class="n lb" x="4678" y="621" width="110" height="48"/><text x="4733" y="634.9"><tspan x="4733">response to</tspan><tspan x="4733" dy="14.6">endoplasmic</tspan><tspan x="4733" dy="14.6">reticulum stress</tspan></text></g>
<g id="n-regroxs"><rect class="n" x="4865" y="621" width="110" height="48"/><text x="4920" y="634.9"><tspan x="4920">regulation of</tspan><tspan x="4920" dy="14.6">response to</tspan><tspan x="4920" dy="14.6">oxidative stress</tspan></text></g>
<g id="n-regcrs"><rect class="n" x="5000" y="621" width="117" height="48"/><text x="5058.5" y="634.9"><tspan x="5058.5">regulation of</tspan><tspan x="5058.5" dy="14.6">cellular response</tspan><tspan x="5058.5" dy="14.6">to stress</tspan></text></g>
<g id="n-regst"><rect class="n" x="5141" y="621" width="130" height="48"/><text x="5206" y="642.2"><tspan x="5206">regulation of</tspan><tspan x="5206" dy="14.6">signal transduction</tspan></text></g>
<g id="n-apop"><rect class="n" x="5521" y="621" width="120" height="48"/><text x="5581" y="649.5">apoptotic process</text></g>
<g id="n-regpcd"><rect class="n" x="5666" y="621" width="118" height="48"/><text x="5725" y="634.9"><tspan x="5725">regulation of</tspan><tspan x="5725" dy="14.6">programmed cell</tspan><tspan x="5725" dy="14.6">death</tspan></text></g>
<g id="n-posregcadh"><rect class="n lb" x="5808" y="621" width="127" height="48"/><text x="5871.5" y="642.2"><tspan x="5871.5">positive regulation</tspan><tspan x="5871.5" dy="14.6">of cell adhesion</tspan></text></g>
<g id="n-regcsadh"><rect class="n" x="5961" y="621" width="95" height="48"/><text x="6008.5" y="634.9"><tspan x="6008.5">regulation of</tspan><tspan x="6008.5" dy="14.6">cell-substrate</tspan><tspan x="6008.5" dy="14.6">adhesion</tspan></text></g>
<g id="n-sadcs"><rect class="n" x="6132" y="621" width="203" height="48"/><text x="6233.5" y="642.2"><tspan x="6233.5">substrate adhesion-dependent</tspan><tspan x="6233.5" dy="14.6">cell spreading</tspan></text></g>
<g id="n-inttrans"><rect class="n" x="6360" y="621" width="83" height="48"/><text x="6401.5" y="642.2"><tspan x="6401.5">intracellular</tspan><tspan x="6401.5" dy="14.6">transport</tspan></text></g>
<g id="n-vesic"><rect class="n" x="6468" y="621" width="117" height="48"/><text x="6526.5" y="642.2"><tspan x="6526.5">vesicle-mediated</tspan><tspan x="6526.5" dy="14.6">transport</tspan></text></g>
<g id="n-entryhost"><rect class="n" x="6713" y="621" width="101" height="48"/><text x="6763.5" y="649.5">entry into host</text></g>
<g id="n-posregvlc"><rect class="n" x="6960" y="621" width="127" height="48"/><text x="7023.5" y="634.9"><tspan x="7023.5">positive regulation</tspan><tspan x="7023.5" dy="14.6">of viral life</tspan><tspan x="7023.5" dy="14.6">cycle</tspan></text></g>
<g id="n-protproc"><rect class="n" x="3321" y="726" width="126" height="49"/><text x="3384" y="755">protein processing</text></g>
<g id="n-pepaa"><rect class="n" x="3471" y="726" width="118" height="49"/><text x="3530" y="747.7"><tspan x="3530">peptidyl-amino</tspan><tspan x="3530" dy="14.6">acid modification</tspan></text></g>
<g id="n-respil7"><rect class="n" x="3873" y="726" width="89" height="49"/><text x="3917.5" y="747.7"><tspan x="3917.5">response to</tspan><tspan x="3917.5" dy="14.6">interleukin-7</tspan></text></g>
<g id="n-crcyto"><rect class="n" x="3987" y="726" width="117" height="49"/><text x="4045.5" y="740.4"><tspan x="4045.5">cellular response</tspan><tspan x="4045.5" dy="14.6">to cytokine</tspan><tspan x="4045.5" dy="14.6">stimulus</tspan></text></g>
<g id="n-crdecoxy"><rect class="n" x="4237" y="726" width="117" height="49"/><text x="4295.5" y="740.4"><tspan x="4295.5">cellular response</tspan><tspan x="4295.5" dy="14.6">to decreased</tspan><tspan x="4295.5" dy="14.6">oxygen levels</tspan></text></g>
<g id="n-resphyp"><rect class="n" x="4378" y="726" width="83" height="49"/><text x="4419.5" y="747.7"><tspan x="4419.5">response to</tspan><tspan x="4419.5" dy="14.6">hypoxia</tspan></text></g>
<g id="n-croxs"><rect class="n" x="4801" y="726" width="117" height="49"/><text x="4859.5" y="740.4"><tspan x="4859.5">cellular response</tspan><tspan x="4859.5" dy="14.6">to oxidative</tspan><tspan x="4859.5" dy="14.6">stress</tspan></text></g>
<g id="n-intrast"><rect class="n" x="5311" y="726" width="129" height="49"/><text x="5375.5" y="747.7"><tspan x="5375.5">intracellular</tspan><tspan x="5375.5" dy="14.6">signal transduction</tspan></text></g>
<g id="n-apopsp"><rect class="n" x="5516" y="726" width="130" height="49"/><text x="5581" y="747.7"><tspan x="5581">apoptotic signaling</tspan><tspan x="5581" dy="14.6">pathway</tspan></text></g>
<g id="n-regapop"><rect class="n" x="5671" y="726" width="121" height="49"/><text x="5731.5" y="747.7"><tspan x="5731.5">regulation of</tspan><tspan x="5731.5" dy="14.6">apoptotic process</tspan></text></g>
<g id="n-posregcsadh"><rect class="n" x="5892" y="726" width="128" height="49"/><text x="5956" y="740.4"><tspan x="5956">positive regulation</tspan><tspan x="5956" dy="14.6">of cell-substrate</tspan><tspan x="5956" dy="14.6">adhesion</tspan></text></g>
<g id="n-regsadcs"><rect class="n" x="6045" y="726" width="203" height="49"/><text x="6146.5" y="740.4"><tspan x="6146.5">regulation of</tspan><tspan x="6146.5" dy="14.6">substrate adhesion-dependent</tspan><tspan x="6146.5" dy="14.6">cell spreading</tspan></text></g>
<g id="n-golgives"><rect class="n" x="6460" y="726" width="91" height="49"/><text x="6505.5" y="747.7"><tspan x="6505.5">Golgi vesicle</tspan><tspan x="6505.5" dy="14.6">transport</tspan></text></g>
<g id="n-modsymb"><rect class="n" x="6665" y="726" width="101" height="49"/><text x="6715.5" y="740.4"><tspan x="6715.5">modulation by</tspan><tspan x="6715.5" dy="14.6">symbiont of</tspan><tspan x="6715.5" dy="14.6">entry into host</tspan></text></g>
<g id="n-viralentry"><rect class="n" x="6893" y="726" width="91" height="49"/><text x="6938.5" y="747.7"><tspan x="6938.5">viral entry</tspan><tspan x="6938.5" dy="14.6">into host cell</tspan></text></g>
<g id="n-srlpp"><rect class="n" x="3320" y="831" width="123" height="50"/><text x="3381.5" y="845.9"><tspan x="3381.5">signaling receptor</tspan><tspan x="3381.5" dy="14.6">ligand precursor</tspan><tspan x="3381.5" dy="14.6">processing</tspan></text></g>
<g id="n-ppmod"><rect class="n" x="3466" y="831" width="110" height="50"/><text x="3521" y="853.2"><tspan x="3521">peptidyl-proline</tspan><tspan x="3521" dy="14.6">modification</tspan></text></g>
<g id="n-prothydrox"><rect class="n" x="3600" y="831" width="146" height="50"/><text x="3673" y="860.5">protein hydroxylation</text></g>
<g id="n-cril7"><rect class="n cb" x="3929" y="831" width="118" height="50"/><text x="3988" y="853.2"><tspan x="3988">cellular response</tspan><tspan x="3988" dy="14.6">to interleukin-7</tspan></text></g>
<g id="n-crhyp"><rect class="n lb" x="4361" y="831" width="118" height="50"/><text x="4420" y="853.2"><tspan x="4420">cellular response</tspan><tspan x="4420" dy="14.6">to hypoxia</tspan></text></g>
<g id="n-regcroxs"><rect class="n" x="4915" y="824" width="117" height="64"/><text x="4973.5" y="838.6"><tspan x="4973.5">regulation of</tspan><tspan x="4973.5" dy="14.6">cellular response</tspan><tspan x="4973.5" dy="14.6">to oxidative</tspan><tspan x="4973.5" dy="14.6">stress</tspan></text></g>
<g id="n-cdros"><rect class="n" x="5075" y="831" width="108" height="50"/><text x="5129" y="845.9"><tspan x="5129">cell death in</tspan><tspan x="5129" dy="14.6">response to</tspan><tspan x="5129" dy="14.6">oxidative stress</tspan></text></g>
<g id="n-regist"><rect class="n" x="5260" y="831" width="131" height="50"/><text x="5325.5" y="845.9"><tspan x="5325.5">regulation of</tspan><tspan x="5325.5" dy="14.6">intracellular</tspan><tspan x="5325.5" dy="14.6">signal transduction</tspan></text></g>
<g id="n-iasp"><rect class="n" x="5415" y="831" width="125" height="50"/><text x="5477.5" y="853.2"><tspan x="5477.5">intrinsic apoptotic</tspan><tspan x="5477.5" dy="14.6">signaling pathway</tspan></text></g>
<g id="n-regapsp"><rect class="n" x="5564" y="831" width="130" height="50"/><text x="5629" y="845.9"><tspan x="5629">regulation of</tspan><tspan x="5629" dy="14.6">apoptotic signaling</tspan><tspan x="5629" dy="14.6">pathway</tspan></text></g>
<g id="n-posregsadcs"><rect class="n lb" x="6078" y="824" width="137" height="64"/><text x="6146.5" y="838.6"><tspan x="6146.5">positive regulation</tspan><tspan x="6146.5" dy="14.6">of substrate</tspan><tspan x="6146.5" dy="14.6">adhesion-dependent</tspan><tspan x="6146.5" dy="14.6">cell spreading</tspan></text></g>
<g id="n-ertogolgi"><rect class="n cb" x="6380" y="824" width="157" height="64"/><text x="6458.5" y="838.6"><tspan x="6458.5">endoplasmic</tspan><tspan x="6458.5" dy="14.6">reticulum to</tspan><tspan x="6458.5" dy="14.6">Golgi vesicle-mediated</tspan><tspan x="6458.5" dy="14.6">transport</tspan></text></g>
<g id="n-posregsymb"><rect class="n" x="6655" y="824" width="128" height="64"/><text x="6719" y="838.6"><tspan x="6719">positive regulation</tspan><tspan x="6719" dy="14.6">by symbiont</tspan><tspan x="6719" dy="14.6">of entry into</tspan><tspan x="6719" dy="14.6">host</tspan></text></g>
<g id="n-regviralentry"><rect class="n" x="6810" y="831" width="91" height="50"/><text x="6855.5" y="845.9"><tspan x="6855.5">regulation of</tspan><tspan x="6855.5" dy="14.6">viral entry</tspan><tspan x="6855.5" dy="14.6">into host cell</tspan></text></g>
<g id="n-insmet"><rect class="n" x="3242" y="952" width="118" height="48"/><text x="3301" y="973.2"><tspan x="3301">insulin metabolic</tspan><tspan x="3301" dy="14.6">process</tspan></text></g>
<g id="n-pphydrox"><rect class="n" x="3512" y="952" width="108" height="48"/><text x="3566" y="973.2"><tspan x="3566">peptidyl-proline</tspan><tspan x="3566" dy="14.6">hydroxylation</tspan></text></g>
<g id="n-phproc"><rect class="n" x="3707" y="952" width="118" height="48"/><text x="3766" y="973.2"><tspan x="3766">peptide hormone</tspan><tspan x="3766" dy="14.6">processing</tspan></text></g>
<g id="n-regoscd"><rect class="n" x="5050" y="952" width="166" height="48"/><text x="5133" y="965.9"><tspan x="5133">regulation of</tspan><tspan x="5133" dy="14.6">oxidative stress-induced</tspan><tspan x="5133" dy="14.6">cell death</tspan></text></g>
<g id="n-iaspos"><rect class="n" x="5254" y="936" width="125" height="80"/><text x="5316.5" y="951.3"><tspan x="5316.5">intrinsic apoptotic</tspan><tspan x="5316.5" dy="14.6">signaling pathway</tspan><tspan x="5316.5" dy="14.6">in response</tspan><tspan x="5316.5" dy="14.6">to oxidative</tspan><tspan x="5316.5" dy="14.6">stress</tspan></text></g>
<g id="n-regiasp"><rect class="n" x="5410" y="952" width="125" height="48"/><text x="5472.5" y="965.9"><tspan x="5472.5">regulation of</tspan><tspan x="5472.5" dy="14.6">intrinsic apoptotic</tspan><tspan x="5472.5" dy="14.6">signaling pathway</tspan></text></g>
<g id="n-posregve"><rect class="n lb" x="6833" y="952" width="128" height="48"/><text x="6897" y="965.9"><tspan x="6897">positive regulation</tspan><tspan x="6897" dy="14.6">of viral entry</tspan><tspan x="6897" dy="14.6">into host cell</tspan></text></g>
<g id="n-insproc"><rect class="n cb" x="3309" y="1072" width="123" height="48"/><text x="3370.5" y="1100.5">insulin processing</text></g>
<g id="n-pph4"><rect class="n lb" x="3491" y="1072" width="150" height="48"/><text x="3566" y="1085.9"><tspan x="3566">peptidyl-proline</tspan><tspan x="3566" dy="14.6">hydroxylation</tspan><tspan x="3566" dy="14.6">to 4-hydroxy-L-proline</tspan></text></g>
<g id="n-regosiasp"><rect class="n lb" x="5234" y="1064" width="166" height="64"/><text x="5317" y="1078.6"><tspan x="5317">regulation of</tspan><tspan x="5317" dy="14.6">oxidative stress-induced</tspan><tspan x="5317" dy="14.6">intrinsic apoptotic</tspan><tspan x="5317" dy="14.6">signaling pathway</tspan></text></g>
</svg>
